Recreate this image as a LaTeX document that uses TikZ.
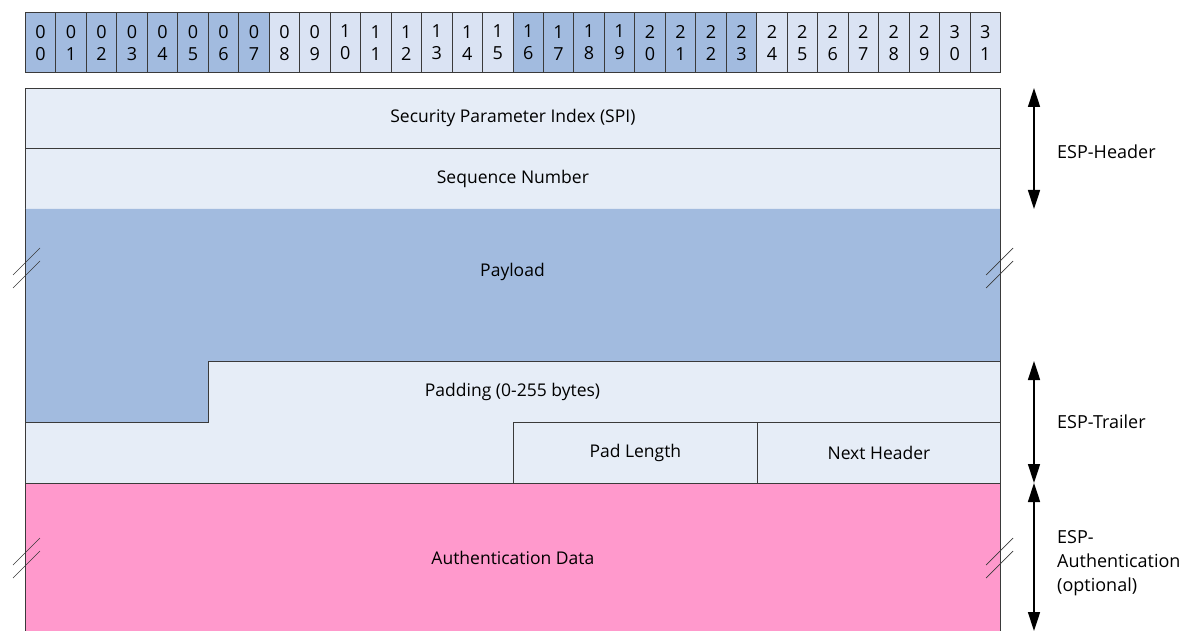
\documentclass[tikz,border=0pt]{standalone}
\usepackage{fontspec}
\setmainfont{Open Sans}
\usetikzlibrary{arrows.meta}
\definecolor{fieldlight}{HTML}{E6EDF7}
\definecolor{fielddark}{HTML}{A2BBDF}
\definecolor{bitlight}{HTML}{DAE3F3}
\definecolor{authpink}{HTML}{FF99CC}
\definecolor{edgegray}{HTML}{3A3A3A}
\tikzset{
  bitbox/.style={draw=edgegray, line width=0.8pt, anchor=north west, inner sep=0pt,
    minimum width=30.47pt, minimum height=60.5pt, align=center,
    font=\fontsize{18}{22}\selectfont},
  field/.style={draw=edgegray, line width=0.8pt, anchor=north west, inner sep=0pt,
    font=\fontsize{17.5}{20}\selectfont},
  fieldtext/.style={font=\fontsize{17.5}{20}\selectfont, inner sep=0pt},
  sidelabel/.style={anchor=west, align=left, inner sep=0pt,
    font=\fontsize{18}{24}\selectfont},
  span/.style={line width=1.6pt, {Triangle[width=12pt,length=19pt]}-{Triangle[width=12pt,length=19pt]}},
}
% two short strokes across an edge that is cut
\newcommand\cutmark[2]{
  \draw[edgegray, line width=0.7pt] (#1-14,#2+7) -- ++(27,-27);
  \draw[edgegray, line width=0.7pt] (#1-14,#2+20) -- ++(27,-27);
}
\begin{document}
\begin{tikzpicture}[x=1pt, y=-1pt]
\useasboundingbox (0,0) rectangle (1181,631);

% bit numbers
\foreach \i in {0,...,31}
{
  \pgfmathtruncatemacro{\grp}{mod(floor(\i/8),2)}
  \pgfmathtruncatemacro{\hi}{floor(\i/10)}
  \pgfmathtruncatemacro{\lo}{mod(\i,10)}
  \ifnum\grp=0 \def\bitfill{fielddark}\else\def\bitfill{bitlight}\fi
  \node[bitbox, fill=\bitfill] (b\i) at (25+\i*30.47,12) {\hi\\\lo};
}

% ESP header
\node[field, fill=fieldlight, minimum width=975pt, minimum height=60pt] (spi) at (25,88)
  {Security Parameter Index (SPI)};
\node[field, fill=fieldlight, minimum width=975pt, minimum height=61pt] (seq) at (25,148)
  {Sequence Number};

% payload and padding
\fill[fieldlight] (25,361) rectangle (1000,483);
\fill[fielddark] (25,209) -- (1000,209) -- (1000,361) -- (208,361) -- (208,422) -- (25,422) -- cycle;
\draw[edgegray, line width=0.8pt] (25,422) -- (208,422) -- (208,361) -- (1000,361);
\draw[edgegray, line width=0.8pt] (25,209) -- (25,483) (1000,209) -- (1000,483);
\node[fieldtext] (payload) at (512.5,272) {Payload};
\node[fieldtext] (padding) at (512.5,392) {Padding (0-255 bytes)};
\node[field, fill=fieldlight, minimum width=244pt, minimum height=61pt] (padlen) at (513,422)
  {Pad Length};
\node[field, fill=fieldlight, minimum width=243pt, minimum height=61pt] (nexthdr) at (757,422)
  {Next Header};

% authentication
\node[field, fill=authpink, minimum width=975pt, minimum height=149pt] (auth) at (25,483)
  {Authentication Data};

\cutmark{27}{268}
\cutmark{1000}{268}
\cutmark{27}{558}
\cutmark{1000}{558}

% spans on the right
\coordinate (hdtop) at (1034,88);
\coordinate (hdbot) at (1034,209);
\coordinate (trtop) at (1034,361);
\coordinate (trbot) at (1034,483);
\coordinate (autop) at (1034,483);
\coordinate (aubot) at (1034,631);
\draw[span] (hdtop) -- (hdbot);
\draw[span] (trtop) -- (trbot);
\draw[span] (autop) -- (aubot);
\node[sidelabel] (hdlbl) at (1057,152) {ESP-Header};
\node[sidelabel] (trlbl) at (1057,422) {ESP-Trailer};
\node[sidelabel] (aulbl) at (1057,563) {ESP-\\Authentication\\(optional)};
\end{tikzpicture}
\end{document}
